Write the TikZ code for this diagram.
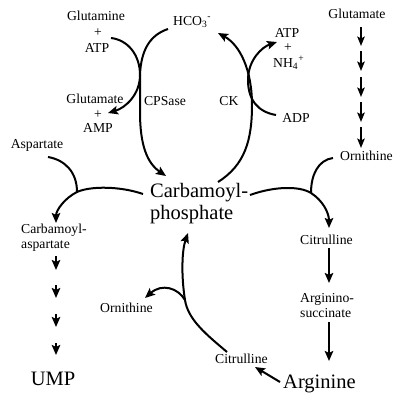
\documentclass[tikz,border=0pt]{standalone}
\usepackage{fontspec}
\setmainfont{Liberation Serif}
\usetikzlibrary{arrows.meta}
\begin{document}
\begin{tikzpicture}[x=1pt,y=-1pt,
  med/.style={font=\fontsize{13.7}{15}\selectfont, inner sep=0pt},
  big/.style={font=\fontsize{20.5}{22}\selectfont, inner sep=0pt},
  flow/.style={line width=2pt, -{Stealth[length=10pt,width=8.5pt,inset=2pt]}},
  flowthick/.style={line width=2.4pt, -{Stealth[length=9.5pt,width=7.5pt,inset=2pt]}},
  plain/.style={line width=2pt},
]
\fill[white] (0,0) rectangle (400,402);
\useasboundingbox (0,0) rectangle (400,402);

% ---- text nodes ----
\node[med,anchor=base] (gln) at (96,20) {Glutamine};
\node[med] (pl1) at (98,33) {+};
\node[med,anchor=base] (atpa) at (97,52) {ATP};
\node[med,anchor=base west] (hco) at (173,25) {HCO\textsubscript{3}\textsuperscript{-}};
\node[med,anchor=base] (atpb) at (287,37) {ATP};
\node[med] (pl2) at (288,48) {+};
\node[med,anchor=base west] (nh4) at (273,67) {NH\textsubscript{4}\textsuperscript{+}};
\node[med,anchor=base] (glut) at (357,18) {Glutamate};
\node[med,anchor=base] (glu) at (95,103) {Glutamate};
\node[med] (pl3) at (98,115) {+};
\node[med,anchor=base] (amp) at (98,132) {AMP};
\node[med,anchor=base] (cps) at (165,105) {CPSase};
\node[med,anchor=base] (ck) at (229,105) {CK};
\node[med,anchor=base] (adp) at (296,122) {ADP};
\node[med,anchor=base west] (orn1) at (340,160) {Ornithine};
\node[med,anchor=base] (asp) at (37,148) {Aspartate};
\node[big,anchor=base west] (cp1) at (150,197) {Carbamoyl-};
\node[big,anchor=base west] (cp2) at (150,219) {phosphate};
\node[med,anchor=base west] (ca1) at (21,233) {Carbamoyl-};
\node[med,anchor=base west] (ca2) at (21,248) {aspartate};
\node[big,anchor=base] (ump) at (53,385) {UMP};
\node[med,anchor=base west] (orn2) at (100,312) {Ornithine};
\node[med,anchor=base west] (cit1) at (300,244) {Citrulline};
\node[med,anchor=base west] (as1) at (300,302) {Arginino-};
\node[med,anchor=base west] (as2) at (300,317) {succinate};
\node[big,anchor=base west] (arg) at (283,388) {Arginine};
\node[med,anchor=base west] (cit2) at (215,363) {Citrulline};

% ---- connector end points ----
\coordinate (gAs) at (111,38);   \coordinate (gAe) at (108,113);
\coordinate (hcS) at (168,29);   \coordinate (hcE) at (166,176);
\coordinate (ckS) at (218,182);  \coordinate (ckE) at (218,33);
\coordinate (adS) at (276,115);  \coordinate (adE) at (277,42);
\coordinate (rS) at (250,195);   \coordinate (rJ) at (311,193);  \coordinate (rE) at (329,228);
\coordinate (oS) at (333,158);
\coordinate (lS) at (143,194);   \coordinate (lJ) at (77,192);   \coordinate (lE) at (56,223);
\coordinate (aS) at (48,157);
\coordinate (bS) at (227,352);   \coordinate (bJ) at (185,300);  \coordinate (bE) at (188,233);
\coordinate (boE) at (145,298);
\coordinate (c1s) at (329,248);  \coordinate (c1e) at (329,283);
\coordinate (c2s) at (329,322);  \coordinate (c2e) at (329,361);
\coordinate (aCs) at (280,382);  \coordinate (aCe) at (255,367);

% ---- top: CPSase and CK ----
\draw[flow] (gAs) .. controls (128,40) and (140,55) .. (140,75)
                  .. controls (140,95) and (125,108) .. (gAe);
\draw[flow] (hcS) .. controls (150,35) and (141,50) .. (140,75) -- (140,112)
                  .. controls (140,145) and (147,163) .. (hcE);
\draw[flow] (ckS) .. controls (245,165) and (252,140) .. (252,105)
                  .. controls (252,70) and (240,45) .. (ckE);
\draw[flow] (adS) .. controls (258,112) and (248,100) .. (248,80)
                  .. controls (248,60) and (262,47) .. (adE);

% ---- glutamate to ornithine (several steps) ----
\foreach \a/\b in {27/46,51/71,77/97,102/122,127/148}
  \draw[flowthick] (361,\a) -- (361,\b);

% ---- carbamoyl-phosphate to citrulline ----
\draw[flow] (rS) .. controls (275,186) and (300,186) .. (rJ)
                 .. controls (322,200) and (329,212) .. (rE);
\draw[plain] (oS) .. controls (318,160) and (311,175) .. (rJ);

% ---- carbamoyl-phosphate to carbamoyl-aspartate ----
\draw[flow] (lS) .. controls (120,186) and (90,186) .. (lJ)
                 .. controls (65,198) and (56,210) .. (lE);
\draw[plain] (aS) .. controls (65,160) and (77,172) .. (lJ);

% ---- carbamoyl-aspartate to UMP (several steps) ----
\foreach \a/\b in {256/270,285/298,314/327,343/355}
  \draw[flow] (56,\a) -- (56,\b);

% ---- right column ----
\draw[flow] (c1s) -- (c1e);
\draw[flow] (c2s) -- (c2e);
\draw[flow] (aCs) -- (aCe);

% ---- lower cycle ----
\draw[flow] (bS) .. controls (207,335) and (188,320) .. (bJ)
                 .. controls (181,275) and (182,250) .. (bE);
\draw[flow] (bJ) .. controls (178,288) and (162,283) .. (boE);
\end{tikzpicture}
\end{document}
